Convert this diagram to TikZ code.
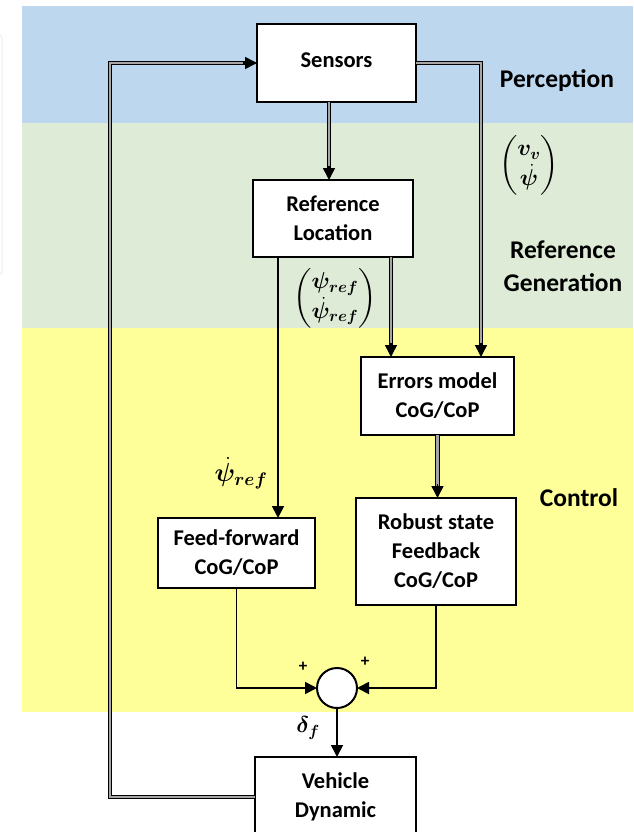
\RequirePackage{fix-cm}
\documentclass[tikz,border=0pt]{standalone}
\usepackage{amsmath,bm}
\usepackage{fontspec}
\setmainfont{Carlito}
\usetikzlibrary{arrows.meta,calc}
\definecolor{percblue}{HTML}{BDD7EE}
\definecolor{gengreen}{HTML}{DEEBD6}
\definecolor{ctrlyellow}{HTML}{FFFF99}
\tikzset{
    every node/.style = {
        inner sep = 0pt,
        outer sep = 0pt
    },
    block/.style = {
        draw,
        fill = white,
        line width = 2.2pt,
        align = center,
        font = \fontsize{22.5}{29}\selectfont\bfseries
    },
    layer/.style = {
        align = center,
        font = \fontsize{25.5}{33}\selectfont\bfseries
    },
    signal/.style = {
        font = \fontsize{23}{28}\selectfont
    },
    sign/.style = {
        font = \fontsize{17}{17}\selectfont\bfseries
    },
    wire/.style = {
        line width = 1.8pt,
        -{Triangle[length=12pt,width=12pt]}
    },
    bus/.style = {
        draw = black,
        line width = 1.1pt,
        double = gray!70,
        double distance = 2.2pt,
        shorten > = 10pt
    },
    bushead/.style = {
        line width = 1.5pt,
        -{Triangle[length=12pt,width=12pt]}
    }
}

\begin{document}
\begin{tikzpicture}[x=1pt, y=-1pt]
    \useasboundingbox (0,0) rectangle (633,832);
    \clip (0,0) rectangle (633,832);

    % layers
    \fill[percblue]   (22,6)   rectangle (633,123);
    \fill[gengreen]   (22,123) rectangle (633,328);
    \fill[ctrlyellow] (22,328) rectangle (633,712);
    \draw[gray!15, line width=1pt, rounded corners=3pt]
        (-10,35) -- (2,35) -- (2,275) -- (-10,275);

    % blocks
    \node (sens) at (336.5,63) [block, minimum width=159pt, minimum height=78pt]{\raisebox{6pt}{Sensors}};
    \node (refl) at (333,218.5) [block, minimum width=160pt, minimum height=77pt]{Reference\\Location};
    \node (err) at (437.5,396) [block, minimum width=153pt, minimum height=78pt]{Errors model\\CoG/CoP};
    \node (ffw) at (236.5,553) [block, minimum width=157pt, minimum height=70pt]{Feed-forward\\CoG/CoP};
    \node (rob) at (436,551.5) [block, minimum width=160pt, minimum height=107pt]{Robust state\\Feedback\\CoG/CoP};
    \node (veh) at (335.5,797) [block, minimum width=161pt, minimum height=80pt]{Vehicle\\Dynamic};
    \node (sum) at (337,688) [circle, draw, fill=white, line width=2pt, minimum size=40pt]{};

    % layer names
    \node (lperc) at (557,81) [layer]{Perception};
    \node (lgen) at (563,266) [layer]{Reference\\Generation};
    \node (lctrl) at (579,498) [layer]{Control};

    % signals
    \node (meas) at (529,165) [signal]{$\begin{pmatrix}\bm{v_v}\\ \bm{\dot{\psi}}\end{pmatrix}$};
    \node (refv) at (335,298) [signal]{$\begin{pmatrix}\bm{\psi_{ref}}\\ \bm{\dot{\psi}_{ref}}\end{pmatrix}$};
    \node (rate) at (241,473) [signal, font=\fontsize{26}{30}\selectfont]{$\bm{\dot{\psi}_{ref}}$};
    \node (steer) at (308,728) [signal]{$\bm{\delta_f}$};
    \node (plusl) at (303,667) [sign]{+};
    \node (plusr) at (365,662) [sign]{+};

    % inlets
    \coordinate (locin) at (329,180);
    \coordinate (refin) at (391,357);
    \coordinate (measin) at (481,357);
    \coordinate (ffin) at (278,518);
    \coordinate (loop) at (110,63);

    % double lines
    \draw[bus] (sens.south -| locin) -- (locin);
    \draw[bushead] ($(locin)+(0,-14)$) -- (locin);
    \draw[bus] (sens.east) -| (measin);
    \draw[bushead] ($(measin)+(0,-14)$) -- (measin);
    \draw[bus] (refl.south -| refin) -- (refin);
    \draw[bushead] ($(refin)+(0,-14)$) -- (refin);
    \draw[bus] (err.south) -- (err.south |- rob.north);
    \draw[bushead] ($(err.south |- rob.north)+(0,-14)$) -- (err.south |- rob.north);
    \draw[bus] (veh.west) -| (loop) -- (sens.west);
    \draw[bushead] ($(sens.west)+(-14,0)$) -- (sens.west);

    % single lines
    \draw[wire] (refl.south -| ffin) -- (ffin);
    \draw[wire] (ffw.south) |- (sum.west);
    \draw[wire] (rob.south) |- (sum.east);
    \draw[wire] (sum.south) -- (veh.north -| sum.south);
\end{tikzpicture}
\end{document}
